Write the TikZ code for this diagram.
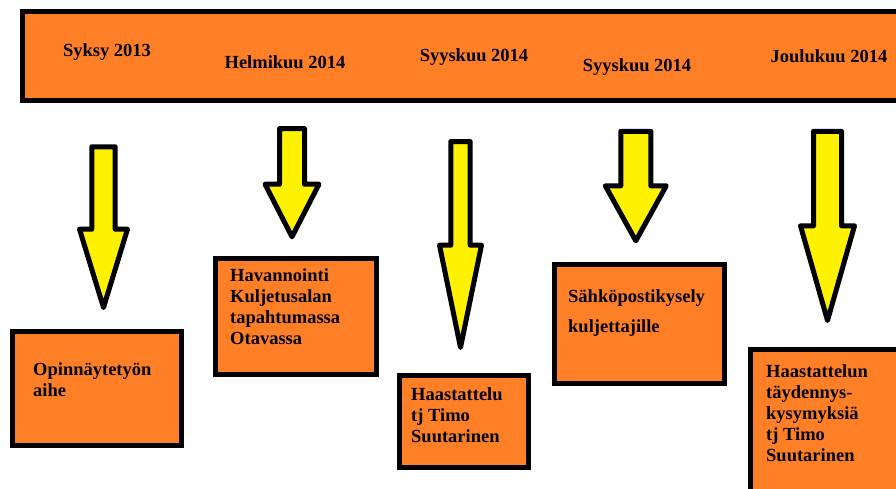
\documentclass[tikz,border=0pt]{standalone}
\usepackage{fontspec}
\setmainfont{Liberation Serif}
\usetikzlibrary{positioning}

\definecolor{paintorange}{RGB}{255,127,39}
\definecolor{paintyellow}{RGB}{255,242,0}

\begin{document}
\begin{tikzpicture}[
		x=1pt, y=-1pt,
		line join=round,
		font=\bfseries\fontsize{18.5}{21}\selectfont,
		band/.style={fill=paintorange, draw=black, line width=5pt, line join=miter},
		box/.style={fill=paintorange, draw=black, line width=5pt, line join=miter},
		downarrow/.style={fill=paintyellow, draw=black, line width=5pt},
		datelab/.style={anchor=base, inner sep=0pt},
		boxlab/.style={anchor=base west, align=left, inner sep=0pt}
	]
	\useasboundingbox (0,0) rectangle (896,488);
	
	% Timeline band
	\draw[band] (22.5,11.5) rectangle (910,100.5);
	
	% Dates
	\node[datelab] (syksy) at (107,56) {Syksy 2013};
	\node[datelab] (helmi) at (285,68) {Helmikuu 2014};
	\node[datelab] (syys1) at (474,61) {Syyskuu 2014};
	\node[datelab] (syys2) at (637,71) {Syyskuu 2014};
	\node[datelab] (joulu) at (829,62) {Joulukuu 2014};
	
	% Arrows: centre / shaft top / shaft half / shoulder / head half / tip
	\foreach \ax/\ay/\sw/\hy/\hw/\ty in {
		103.5/146.8/11.7/229.2/24/307.5,
		292/128.5/12.5/184.2/27/236.8,
		460.5/141.5/9.7/245.2/21/347.5,
		635.8/131.3/15/185.8/30.5/240.8,
		827.5/131.3/14/225.8/27/320.5} {
		\draw[downarrow] (\ax-\sw,\ay) -- (\ax+\sw,\ay) -- (\ax+\sw,\hy)
		-- (\ax+\hw,\hy) -- (\ax,\ty) -- (\ax-\hw,\hy) -- (\ax-\sw,\hy) -- cycle;
	}
	
	% Boxes
	\draw[box] (12.5,331.5) rectangle (181.5,445.5);
	\draw[box] (215.5,258.5) rectangle (376.5,374.5);
	\draw[box] (399.5,375.5) rectangle (528.5,467.5);
	\draw[box] (554,264.5) rectangle (724,383.5);
	\draw[box] (750.5,349.5) rectangle (910,500);
	
	% Box texts (anchored on the last line)
	\node[boxlab] (aihe) at (33,396) {Opinnäytetyön\\aihe};
	\node[boxlab] (havainto) at (230,344) {Havannointi\\Kuljetusalan\\tapahtumassa\\Otavassa};
	\node[boxlab] (haast) at (411,442) {Haastattelu\\tj Timo\\Suutarinen};
	\node[boxlab] (kysely) at (568,332) {Sähköpostikysely\\[9pt]kuljettajille};
	\node[boxlab] (taydennys) at (766,461) {Haastattelun\\täydennys-\\kysymyksiä\\tj Timo\\Suutarinen};
	
\end{tikzpicture}
\end{document}
